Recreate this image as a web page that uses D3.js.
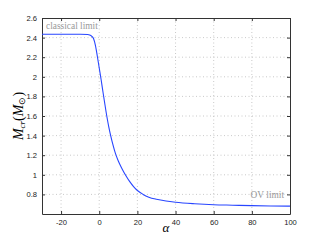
<!DOCTYPE html>
<html><head><meta charset="utf-8">
<script src="https://cdn.jsdelivr.net/npm/d3@7"></script>
<style>body{margin:0;background:#fff}svg{display:block}</style>
</head><body>
<svg id="c" width="321" height="242"></svg>
<script>
const alpha = [-30,-10,-6,-5,-4,-3,-2,-1,0,1,2,3,4,5,6,7,8,9,10,12,14,16,18,20,23,26,30,35,40,50,60,70,80,90,100];
const mcr   = [2.434,2.434,2.432,2.427,2.415,2.39,2.32,2.21,2.09,1.97,1.84,1.715,1.595,1.49,1.40,1.32,1.25,1.19,1.14,1.06,0.99,0.93,0.88,0.84,0.80,0.772,0.75,0.732,0.72,0.705,0.695,0.69,0.685,0.682,0.68];
const xTicks = [-20,0,20,40,60,80,100];
const yTicks = [0.8,1,1.2,1.4,1.6,1.8,2,2.2,2.4,2.6];
const labels = ["classical limit","OV limit"];

const svg = d3.select("#c");
const L=42,T=18,R=290,B=214;
const x = d3.scaleLinear().domain([-30,100]).range([L,R]);
const y = d3.scaleLinear().domain([0.6,2.6]).range([B,T]);

// grid
const g = svg.append("g");
g.selectAll(".gx").data(xTicks.filter(d=>d<100)).join("line")
 .attr("x1",d=>x(d)).attr("x2",d=>x(d)).attr("y1",T).attr("y2",B)
 .attr("stroke","#bbb").attr("stroke-width",0.8).attr("stroke-dasharray","1,2.5");
g.selectAll(".gy").data(yTicks.filter(d=>d<2.6)).join("line")
 .attr("y1",d=>y(d)).attr("y2",d=>y(d)).attr("x1",L).attr("x2",R)
 .attr("stroke","#bbb").attr("stroke-width",0.8).attr("stroke-dasharray","1,2.5");

// axes
const fmt = d=>String(d);
const ax = (axis,tr)=>{const a=svg.append("g").attr("transform",tr).call(axis);
  a.select(".domain").attr("stroke","#333").attr("stroke-width",1);
  a.selectAll(".tick line").attr("stroke","#333");
  a.selectAll("text").attr("font-family","Liberation Sans, Arial, sans-serif").attr("font-size","7.6px").attr("fill","#222");
  return a;};
ax(d3.axisBottom(x).tickValues(xTicks).tickFormat(fmt).tickSizeInner(-3).tickSizeOuter(0).tickPadding(6),`translate(0,${B})`);
ax(d3.axisLeft(y).tickValues(yTicks).tickFormat(fmt).tickSizeInner(-3).tickSizeOuter(0).tickPadding(5),`translate(${L},0)`);
ax(d3.axisTop(x).tickValues(xTicks).tickFormat("").tickSizeInner(-3).tickSizeOuter(0),`translate(0,${T})`);
ax(d3.axisRight(y).tickValues(yTicks).tickFormat("").tickSizeInner(-3).tickSizeOuter(0),`translate(${R},0)`);

// curve
const pts = alpha.map((a,i)=>[a,mcr[i]]);
svg.append("path").datum(pts)
 .attr("d",d3.line().x(d=>x(d[0])).y(d=>y(d[1])).curve(d3.curveMonotoneX))
 .attr("fill","none").attr("stroke","#2846ff").attr("stroke-width",1.1);

// annotations
svg.append("text").attr("x",46).attr("y",29).text(labels[0])
 .attr("font-family","Liberation Serif, serif").attr("font-size","9.4px").attr("fill","#999");
svg.append("text").attr("x",284).attr("y",198).attr("text-anchor","end").text(labels[1])
 .attr("font-family","Liberation Serif, serif").attr("font-size","9.4px").attr("fill","#999");

// axis labels
svg.append("text").attr("x",166).attr("y",232).attr("text-anchor","middle")
 .attr("font-family","Liberation Serif, serif").attr("font-style","italic").attr("font-size","13px").text("α");
const yl = svg.append("text").attr("transform","translate(23,116) rotate(-90)").attr("text-anchor","middle")
 .attr("font-family","Liberation Serif, serif").attr("font-size","14px");
yl.append("tspan").attr("font-style","italic").text("M");
yl.append("tspan").attr("font-style","italic").attr("font-size","9px").attr("dy",2).text("cr");
yl.append("tspan").attr("dy",-2).text("(");
yl.append("tspan").attr("font-style","italic").text("M");
yl.append("tspan").attr("font-size","9px").attr("dy",2).text("⊙");
yl.append("tspan").attr("dy",-2).text(")");
</script>
</body></html>
